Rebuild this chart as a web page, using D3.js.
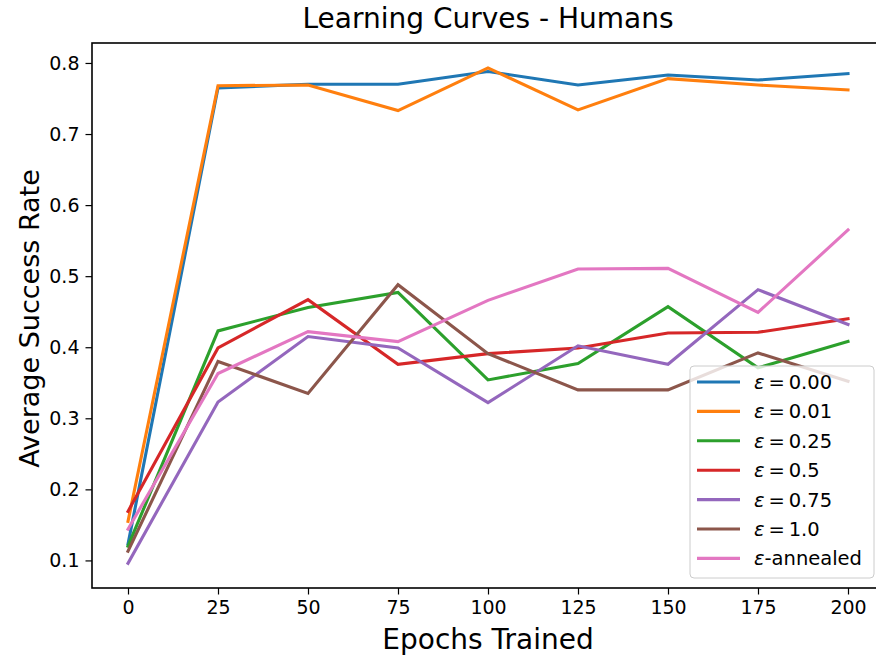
<!DOCTYPE html>
<html><head><meta charset="utf-8">
<script src="https://cdn.jsdelivr.net/npm/d3@7"></script>
<style>body{margin:0;background:#fff}svg{display:block;font-family:"DejaVu Sans",sans-serif}</style>
</head><body>
<svg id="c" width="876" height="658"></svg>
<script>
const epochs = [0, 25, 50, 75, 100, 125, 150, 175, 200];
const eps000 = [0.123, 0.765, 0.770, 0.770, 0.788, 0.769, 0.783, 0.776, 0.785];
const eps001 = [0.155, 0.768, 0.769, 0.733, 0.793, 0.734, 0.778, 0.769, 0.762];
const eps025 = [0.120, 0.423, 0.456, 0.477, 0.354, 0.377, 0.457, 0.371, 0.408];
const eps05  = [0.169, 0.399, 0.467, 0.376, 0.391, 0.399, 0.420, 0.421, 0.440];
const eps075 = [0.096, 0.323, 0.415, 0.399, 0.322, 0.402, 0.376, 0.481, 0.432];
const eps10  = [0.113, 0.380, 0.335, 0.488, 0.391, 0.340, 0.340, 0.392, 0.352];
const epsAnn = [0.144, 0.363, 0.422, 0.408, 0.466, 0.510, 0.511, 0.449, 0.565];
const seriesNames = ["0.00", "0.01", "0.25", "0.5", "0.75", "1.0", "annealed"];
const seriesValues = [eps000, eps001, eps025, eps05, eps075, eps10, epsAnn];
const colors = ["#1f77b4", "#ff7f0e", "#2ca02c", "#d62728", "#9467bd", "#8c564b", "#e377c2"];
const xTicks = [0, 25, 50, 75, 100, 125, 150, 175, 200];
const yTicks = [0.1, 0.2, 0.3, 0.4, 0.5, 0.6, 0.7, 0.8];

const svg = d3.select("#c");
const L = 92, R = 884, T = 43, B = 588;
const x = d3.scaleLinear().domain([-10, 210]).range([L, R]);
const y = d3.scaleLinear().domain([0.0612, 0.8281]).range([B, T]);

const g = svg.append("g");
const line = d3.line().x((d, i) => x(epochs[i])).y(d => y(d));
seriesValues.forEach((vals, k) => {
  g.append("path").datum(vals).attr("d", line)
    .attr("fill", "none").attr("stroke", colors[k]).attr("stroke-width", 3.1)
    .attr("stroke-linejoin", "miter").attr("stroke-linecap", "square");
});

// axes
const xa = svg.append("g").attr("transform", `translate(0,${B})`)
  .call(d3.axisBottom(x).tickValues(xTicks).tickSize(6.5).tickPadding(6).tickFormat(d3.format("d")));
const ya = svg.append("g").attr("transform", `translate(${L},0)`)
  .call(d3.axisLeft(y).tickValues(yTicks).tickSize(6.5).tickPadding(6).tickFormat(d3.format(".1f")));
[xa, ya].forEach(a => {
  a.select(".domain").remove();
  a.selectAll("line").attr("stroke", "#000").attr("stroke-width", 1.2);
  a.selectAll("text").attr("font-size", 19).attr("fill", "#000").attr("font-family", "DejaVu Sans");
});
// spines
svg.append("rect").attr("x", L).attr("y", T).attr("width", R - L).attr("height", B - T)
  .attr("fill", "none").attr("stroke", "#000").attr("stroke-width", 1.6);

// title & labels
svg.append("text").attr("x", (L + R) / 2).attr("y", 28).attr("text-anchor", "middle")
  .attr("font-size", 28).text("Learning Curves - Humans");
svg.append("text").attr("x", (L + R) / 2).attr("y", 649).attr("text-anchor", "middle")
  .attr("font-size", 28).text("Epochs Trained");
svg.append("text").attr("transform", `translate(39,${(T + B) / 2 + 3}) rotate(-90)`).attr("text-anchor", "middle")
  .attr("font-size", 27).text("Average Success Rate");

// legend
const lg = svg.append("g");
lg.append("rect").attr("x", 690).attr("y", 366).attr("width", 184).attr("height", 212).attr("rx", 4)
  .attr("fill", "#fff").attr("fill-opacity", 0.8).attr("stroke", "#ccc").attr("stroke-width", 1);
seriesNames.forEach((n, k) => {
  const yy = 382 + k * 29.4;
  lg.append("line").attr("x1", 697).attr("x2", 740).attr("y1", yy).attr("y2", yy)
    .attr("stroke", colors[k]).attr("stroke-width", 3.1);
  const t = lg.append("text").attr("x", 754).attr("y", yy + 7).attr("font-size", 19.5);
  t.append("tspan").attr("font-style", "italic").text("ε");
  if (n === "annealed") t.append("tspan").text("-annealed");
  else t.append("tspan").attr("xml:space", "preserve").text("\u2009=\u2009" + n);
});
</script>
</body></html>
